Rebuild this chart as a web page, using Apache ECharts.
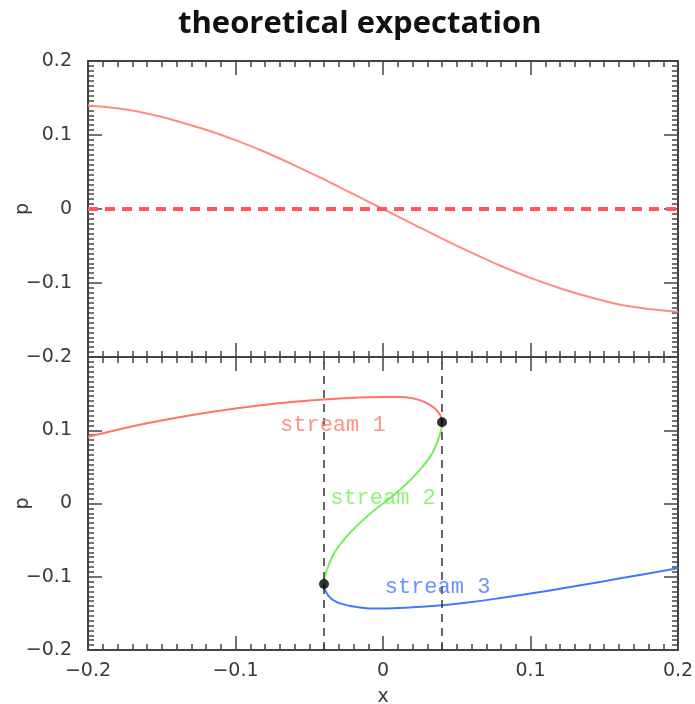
<!DOCTYPE html>
<html><head><meta charset="utf-8">
<script src="https://cdn.jsdelivr.net/npm/echarts@6/dist/echarts.min.js"></script>
<style>html,body{margin:0;padding:0;background:#fff}#c{width:695px;height:704px}</style>
</head><body><div id="c"></div>
<script>
const titleText = 'theoretical expectation';
const xName = 'x';
const yName = 'p';
const tickValues = [-0.2, -0.1, 0, 0.1, 0.2];
const tickLabels = ['\u22120.2', '\u22120.1', '0', '0.1', '0.2'];

// top panel: theoretical curve p(x)
const theoryX = [-0.2,-0.18,-0.16,-0.14,-0.12,-0.1,-0.08,-0.06,-0.04,-0.02,0,0.02,0.04,0.06,0.08,0.1,0.12,0.14,0.16,0.18,0.2];
const theoryP = [0.140,0.136,0.129,0.119,0.107,0.093,0.077,0.059,0.040,0.020,0,-0.020,-0.040,-0.059,-0.077,-0.093,-0.107,-0.119,-0.129,-0.135,-0.139];
const referenceP = 0;

// bottom panel: streams as [x, p] pairs
const stream1 = [[-0.2,0.091],[-0.18,0.1008],[-0.16,0.1095],[-0.14,0.1172],[-0.12,0.1240],[-0.1,0.1298],[-0.08,0.1348],[-0.06,0.1388],[-0.04,0.1420],[-0.02,0.1443],[0,0.1455],[0.012,0.1455],[0.022,0.1428],[0.03,0.1368],[0.035,0.1300],[0.038,0.1230],[0.0395,0.1170],[0.04,0.111]];
const stream2 = [[0.04,0.111],[0.0395,0.100],[0.037,0.085],[0.032,0.064],[0.021,0.037],[0.007,0.011],[-0.007,-0.011],[-0.021,-0.037],[-0.032,-0.064],[-0.037,-0.085],[-0.0395,-0.100],[-0.04,-0.110]];
const stream3 = [[-0.04,-0.110],[-0.0395,-0.117],[-0.037,-0.126],[-0.032,-0.134],[-0.022,-0.140],[-0.01,-0.1432],[0,-0.1435],[0.02,-0.1418],[0.04,-0.1390],[0.06,-0.1345],[0.08,-0.1290],[0.1,-0.1230],[0.12,-0.1165],[0.14,-0.1095],[0.16,-0.1025],[0.18,-0.0955],[0.2,-0.0885]];
const foldX = [-0.04, 0.04];
const foldPoints = [[0.04,0.111],[-0.04,-0.110]];
const streamNames = ['stream 1', 'stream 2', 'stream 3'];
const streamLabelPos = [[-0.034,0.107],[0.0,0.0075],[0.037,-0.114]];
const streamColors = ['#ff7466', '#77ee55', '#4477ff'];

const AX = '#444';
const labelFont = {fontFamily: 'DejaVu Sans', fontSize: 19, color: '#3a3a3a'};
function fmt(v) {
  const i = tickValues.findIndex(t => Math.abs(t - v) < 1e-6);
  return i >= 0 ? tickLabels[i] : '';
}
function axis(opts, minorSplit, showLabel) {
  return Object.assign({
    type: 'value', min: -0.2, max: 0.2, interval: 0.1,
    nameMoveOverlap: false,
    axisLine: {show: true, onZero: false, lineStyle: {color: AX, width: 2}},
    axisTick: {show: true, inside: true, length: 14, lineStyle: {color: AX, width: 1.5}},
    minorTick: {show: true, splitNumber: minorSplit, length: 6, lineStyle: {color: AX, width: 1.5}},
    splitLine: {show: false}, minorSplitLine: {show: false},
    axisLabel: showLabel ? Object.assign({show: true, margin: 16, formatter: fmt}, labelFont) : {show: false}
  }, opts);
}
const xAxes = [
  axis({gridIndex: 0, position: 'bottom'}, 10, false),
  axis({gridIndex: 0, position: 'top'}, 10, false),
  axis({gridIndex: 1, position: 'bottom', name: xName, nameLocation: 'middle', nameGap: 38,
        nameTextStyle: labelFont}, 10, true),
  axis({gridIndex: 1, position: 'top'}, 10, false)
];
xAxes[2].axisLabel.margin = 12;
const yAxes = [
  axis({gridIndex: 0, position: 'left', name: yName, nameLocation: 'middle', nameGap: 55, nameRotate: 90,
        nameTextStyle: labelFont}, 15, true),
  axis({gridIndex: 0, position: 'right'}, 15, false),
  axis({gridIndex: 1, position: 'left', name: yName, nameLocation: 'middle', nameGap: 55, nameRotate: 90,
        nameTextStyle: labelFont}, 15, true),
  axis({gridIndex: 1, position: 'right'}, 15, false)
];
yAxes[2].axisLabel.showMaxLabel = false;

const series = [
  {type: 'line', xAxisIndex: 0, yAxisIndex: 0, data: theoryX.map((x, i) => [x, theoryP[i]]),
   showSymbol: false, smooth: 0.3, lineStyle: {color: '#ff8c84', width: 2}, z: 3,
   markLine: {silent: true, symbol: 'none', label: {show: false},
     lineStyle: {color: '#ff5858', width: 4, type: [10, 7]}, data: [{yAxis: referenceP}]}},
];
[stream1, stream2, stream3].forEach((s, i) => {
  series.push({type: 'line', xAxisIndex: 2, yAxisIndex: 2, data: s, showSymbol: false, smooth: 0.4,
    lineStyle: {color: streamColors[i], width: 2}, z: 3});
});
series[2].markLine = {silent: true, symbol: 'none', label: {show: false},
  lineStyle: {color: '#333', width: 1.5, type: [8, 6]}, data: foldX.map(v => ({xAxis: v}))};
series.push({type: 'scatter', xAxisIndex: 2, yAxisIndex: 2, data: foldPoints, symbolSize: 10,
  itemStyle: {color: '#000'}, z: 5});
series.push({type: 'scatter', xAxisIndex: 2, yAxisIndex: 2, symbolSize: 0, z: 6,
  data: streamNames.map((n, i) => ({name: n, value: streamLabelPos[i],
    label: {show: true, position: 'inside', formatter: n, color: streamColors[i],
      fontFamily: 'Liberation Mono', fontSize: 22}}))});

const chart = echarts.init(document.getElementById('c'), null, {renderer: 'canvas'});
chart.setOption({
  animation: false,
  backgroundColor: '#fff',
  title: {text: titleText, left: 173, top: 4,
    textStyle: {fontFamily: 'Open Sans', fontWeight: 'bold', fontSize: 31, color: '#111'}},
  grid: [
    {left: 88, top: 61, width: 590, height: 296, outerBoundsMode: 'none', containLabel: false},
    {left: 88, top: 357, width: 590, height: 293, outerBoundsMode: 'none', containLabel: false}
  ],
  xAxis: xAxes,
  yAxis: yAxes,
  series: series
});
</script></body></html>
